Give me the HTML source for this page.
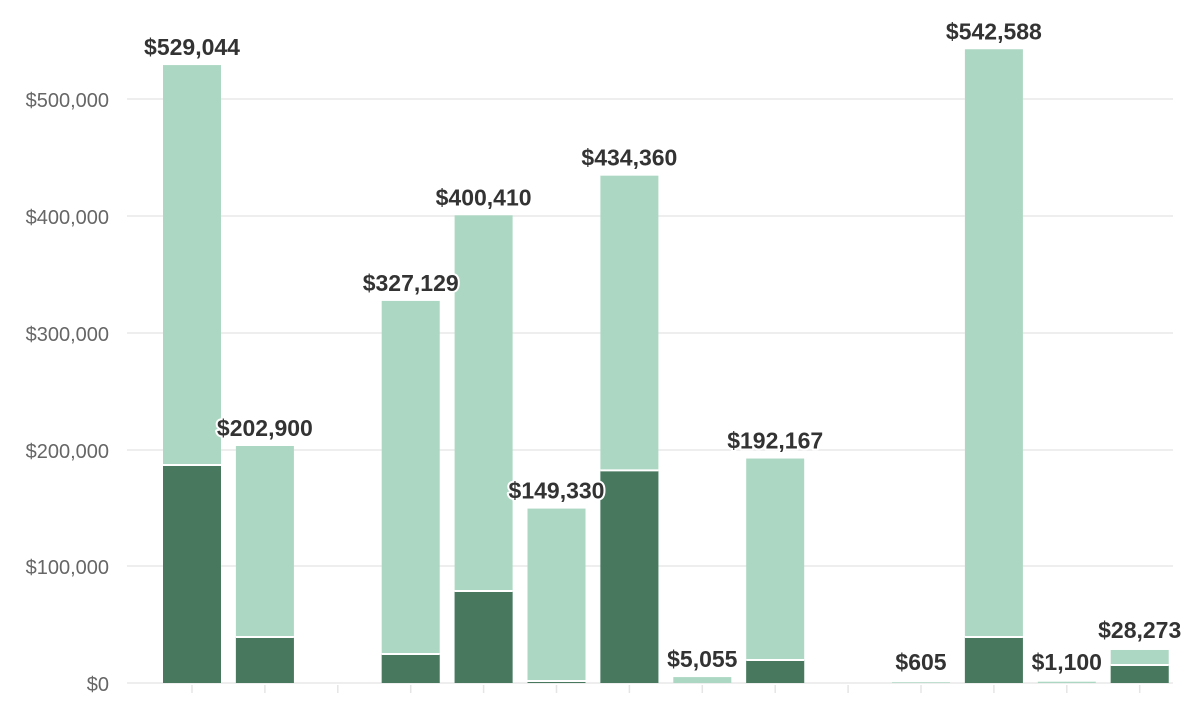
<!DOCTYPE html>
<html><head><meta charset="utf-8"><style>
body{margin:0;background:#fff}
svg{display:block;font-family:"Liberation Sans",sans-serif}
.yl{font-size:20px;fill:#666;text-anchor:end}
.bl{font-size:23px;font-weight:bold;fill:#333;text-anchor:middle;paint-order:stroke;stroke:#fff;stroke-width:4px;stroke-linejoin:round}
</style></head><body>
<svg width="1200" height="703" viewBox="0 0 1200 703">
<g stroke="#e9e9e9" stroke-width="1.5">
<line x1="127" x2="1173" y1="99" y2="99"/>
<line x1="127" x2="1173" y1="216" y2="216"/>
<line x1="127" x2="1173" y1="333" y2="333"/>
<line x1="127" x2="1173" y1="450" y2="450"/>
<line x1="127" x2="1173" y1="566" y2="566"/>
<line x1="127" x2="1173" y1="683" y2="683"/>
</g>
<g class="yl">
<text class="yl" x="109" y="107">$500,000</text>
<text class="yl" x="109" y="224">$400,000</text>
<text class="yl" x="109" y="341">$300,000</text>
<text class="yl" x="109" y="458">$200,000</text>
<text class="yl" x="109" y="574">$100,000</text>
<text class="yl" x="109" y="691">$0</text>
</g>
<g id="bars"></g>
</svg>
<script>
const d=[[529044,186600],[202900,39400],null,[327129,24800],[400410,78800],[149330,1700],[434360,182000],[5055,0],[192167,19700],null,[605,0],[542588,39400],[1100,0],[28273,15400]];
const g=document.getElementById('bars');let s='',t2='';
const Y=v=>683-v*0.001168;
d.forEach((b,i)=>{const c=192+72.9*i;
s+=`<line x1="${c}" x2="${c}" y1="685" y2="693" stroke="#e5e5e5" stroke-width="1.5"/>`;
if(!b)return;const [t,k]=b;const x=c-29;
const yt=Y(t);const yk=Y(k);
s+=`<rect x="${x}" y="${yt}" width="58" height="${683-yt}" fill="#acd7c2"/>`;
if(k>0){s+=`<rect x="${x}" y="${yk}" width="58" height="${683-yk}" fill="#48785e"/>`;
s+=`<line x1="${x}" x2="${x+58}" y1="${yk}" y2="${yk}" stroke="#fff" stroke-width="2"/>`;}
let ly=yt-10; if(t<10000) ly=Math.min(ly,670);
if(i==13) ly=yt-12;
t2+=`<text class="bl" x="${c}" y="${ly}">$${t.toLocaleString('en-US')}</text>`;
});
g.innerHTML=s+t2;
</script>
</body></html>
